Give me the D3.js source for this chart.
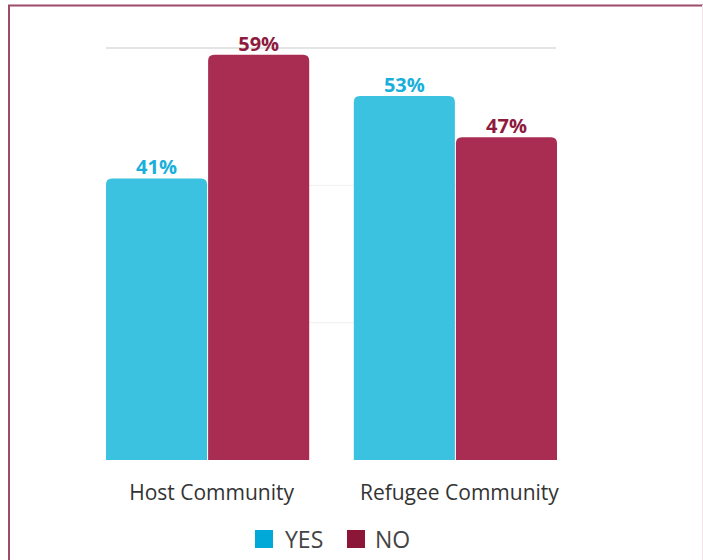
<!DOCTYPE html>
<html>
<head>
<meta charset="utf-8">
<script src="https://cdn.jsdelivr.net/npm/d3@7/dist/d3.min.js"></script>
<style>
html,body{margin:0;padding:0;background:#fff;}
svg{display:block;font-family:"Open Sans",sans-serif;}
</style>
</head>
<body>
<svg id="chart" width="703" height="560"></svg>
<script>
const categories = ["Host Community", "Refugee Community"];
const seriesNames = ["YES", "NO"];
const yesValues = [41, 53];
const noValues = [59, 47];
const yTicks = [0, 20, 40, 60];

const barColors = {YES: "#3cc2e1", NO: "#a92d52"};
const labelColors = {YES: "#1aafdb", NO: "#8e1b3d"};
const legendColors = {YES: "#00a9d7", NO: "#8b1637"};

const svg = d3.select("#chart");

// frame
svg.append("line").attr("x1", 9).attr("x2", 9).attr("y1", 5).attr("y2", 560)
  .attr("stroke", "#9e4a6a").attr("stroke-width", 2);
svg.append("line").attr("x1", 8).attr("x2", 703).attr("y1", 5.5).attr("y2", 5.5)
  .attr("stroke", "#9e4a6a").attr("stroke-width", 2);
svg.append("line").attr("x1", 702.5).attr("x2", 702.5).attr("y1", 5).attr("y2", 560)
  .attr("stroke", "#f6e4ea").attr("stroke-width", 1);

const plotLeft = 106, plotRight = 557, plotTop = 48, plotBottom = 460;

const y = d3.scaleLinear().domain([0, 60]).range([plotBottom, plotTop]);
const x0 = d3.scaleBand().domain(categories).range([plotLeft, plotRight]).paddingInner(0.18).paddingOuter(0);
const x1 = d3.scaleBand().domain(seriesNames).range([0, x0.bandwidth()]).paddingInner(0.01);

// gridlines
svg.append("g").selectAll("line").data(yTicks.filter(d => d > 0)).join("line")
  .attr("x1", plotLeft).attr("x2", plotRight - 1)
  .attr("y1", d => y(d)).attr("y2", d => y(d))
  .attr("stroke", d => d === 60 ? "#e4e4e4" : "#f1f1f1")
  .attr("stroke-width", d => d === 60 ? 2 : 1);

const data = categories.map((c, i) => ({cat: c, vals: [{s: "YES", v: yesValues[i]}, {s: "NO", v: noValues[i]}]}));

function topRounded(x, yTop, w, h, r) {
  return `M${x},${yTop + h}V${yTop + r}Q${x},${yTop} ${x + r},${yTop}H${x + w - r}Q${x + w},${yTop} ${x + w},${yTop + r}V${yTop + h}Z`;
}

const groups = svg.append("g").selectAll("g").data(data).join("g")
  .attr("transform", d => `translate(${x0(d.cat)},0)`);

groups.selectAll("path").data(d => d.vals).join("path")
  .attr("d", d => topRounded(x1(d.s), y(d.v), x1.bandwidth(), plotBottom - y(d.v), 6))
  .attr("fill", d => barColors[d.s]);

groups.selectAll("text").data(d => d.vals).join("text")
  .attr("x", d => x1(d.s) + x1.bandwidth() / 2)
  .attr("y", d => y(d.v) - 4)
  .attr("text-anchor", "middle")
  .attr("font-size", 20)
  .attr("font-weight", 700)
  .attr("fill", d => labelColors[d.s])
  .text(d => d.v + "%");

// category labels
svg.append("g").selectAll("text").data(categories).join("text")
  .attr("x", d => x0(d) + x0.bandwidth() / 2 + 4)
  .attr("y", 500)
  .attr("text-anchor", "middle")
  .attr("font-size", 21)
  .attr("fill", "#333")
  .text(d => d);

// legend
const legendX = [255, 347];
const lg = svg.append("g").selectAll("g").data(seriesNames).join("g")
  .attr("transform", (d, i) => `translate(${legendX[i]},530)`);
lg.append("rect").attr("width", 18).attr("height", 18).attr("fill", d => legendColors[d]);
lg.append("text").attr("x", d => d === "YES" ? 30 : 28).attr("y", 18)
  .attr("font-size", 23).attr("fill", "#444").text(d => d);
</script>
</body>
</html>
